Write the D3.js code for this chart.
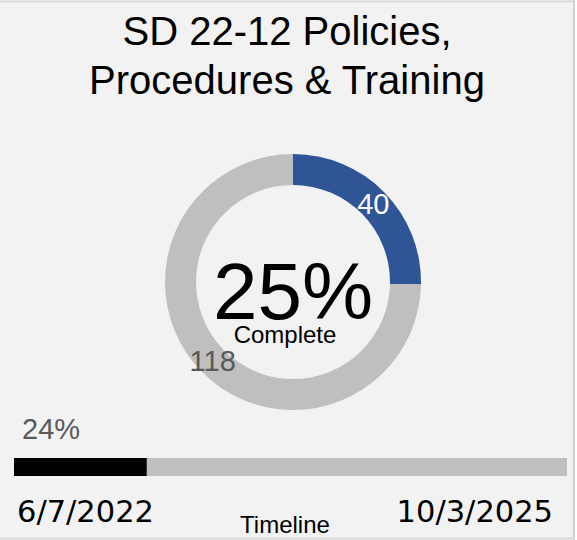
<!DOCTYPE html>
<html>
<head>
<meta charset="utf-8">
<script src="https://cdn.jsdelivr.net/npm/d3@7"></script>
<style>
  html, body { margin: 0; padding: 0; background: #ffffff; }
  svg { display: block; font-family: "Liberation Sans", Arial, sans-serif; }
</style>
</head>
<body>
<svg id="chart" width="577" height="540"></svg>
<script>
// title, two lines as in the card
var titleLines = ["SD 22-12 Policies,", "Procedures & Training"];

// donut: completed vs remaining items
var segNames = ["Complete", "Remaining"];
var segValues = [40, 118];
var segColors = ["#2f5597", "#bfbfbf"];
var segLabelColors = ["#ffffff", "#595959"];

// timeline bar
var timeStart = "6/7/2022";
var timeEnd = "10/3/2025";
var timeElapsed = [0.24];

var svg = d3.select("#chart");
var W = 577, H = 540;

// card background + thin borders
svg.append("rect").attr("x", 0).attr("y", 0).attr("width", 575).attr("height", H).attr("fill", "#f2f2f2");
svg.append("line").attr("x1", 0).attr("x2", 575).attr("y1", 1.5).attr("y2", 1.5).attr("stroke", "#d9d9d9").attr("stroke-width", 2);
svg.append("line").attr("x1", 574).attr("x2", 574).attr("y1", 0).attr("y2", H).attr("stroke", "#d0d0d0").attr("stroke-width", 2);
svg.append("line").attr("x1", 0).attr("x2", 575).attr("y1", 538.5).attr("y2", 538.5).attr("stroke", "#d9d9d9").attr("stroke-width", 2);

svg.selectAll("text.title")
  .data(titleLines)
  .enter().append("text")
  .attr("class", "title")
  .attr("x", 287)
  .attr("y", function (d, i) { return 45 + i * 49; })
  .attr("text-anchor", "middle")
  .attr("font-size", 40)
  .attr("fill", "#000")
  .text(function (d) { return d; });

// donut
var cx = 293, cy = 282;
var total = d3.sum(segValues);
var pie = d3.pie().sort(null).value(function (d) { return d; });
var arc = d3.arc().innerRadius(97).outerRadius(128);
var arcs = pie(segValues);

var g = svg.append("g").attr("transform", "translate(" + cx + "," + cy + ")");
g.selectAll("path")
  .data(arcs)
  .enter().append("path")
  .attr("d", arc)
  .attr("fill", function (d, i) { return segColors[i]; });

g.selectAll("text.val")
  .data(arcs)
  .enter().append("text")
  .attr("class", "val")
  .attr("transform", function (d) { return "translate(" + arc.centroid(d) + ")"; })
  .attr("text-anchor", "middle")
  .attr("dy", "0.36em")
  .attr("font-size", 29)
  .attr("fill", function (d, i) { return segLabelColors[i]; })
  .text(function (d) { return d.data; });

var pct = Math.round(segValues[0] / total * 100);
g.append("text")
  .attr("x", 0).attr("y", 37)
  .attr("text-anchor", "middle")
  .attr("font-size", 80)
  .attr("fill", "#000")
  .text(pct + "%");
g.append("text")
  .attr("x", -8).attr("y", 61)
  .attr("text-anchor", "middle")
  .attr("font-size", 24)
  .attr("fill", "#000")
  .text(segNames[0]);

// timeline bar
var x = d3.scaleLinear().domain([0, 1]).range([14, 567]);
var barY = 458, barH = 18;
svg.append("rect")
  .attr("x", x(0)).attr("y", barY)
  .attr("width", x(1) - x(0)).attr("height", barH)
  .attr("fill", "#bfbfbf");
svg.selectAll("rect.done")
  .data(timeElapsed)
  .enter().append("rect")
  .attr("class", "done")
  .attr("x", x(0)).attr("y", barY)
  .attr("width", function (d) { return x(d) - x(0); })
  .attr("height", barH)
  .attr("fill", "#000");

svg.append("text")
  .attr("x", 22).attr("y", 439)
  .attr("font-size", 29)
  .attr("fill", "#595959")
  .text(d3.format(".0%")(timeElapsed[0]));

svg.append("text")
  .attr("x", 17).attr("y", 522)
  .attr("font-family", "DejaVu Sans")
  .attr("font-size", 30.5)
  .attr("fill", "#000")
  .text(timeStart);
svg.append("text")
  .attr("x", 553).attr("y", 522)
  .attr("text-anchor", "end")
  .attr("font-family", "DejaVu Sans")
  .attr("font-size", 30.5)
  .attr("fill", "#000")
  .text(timeEnd);
svg.append("text")
  .attr("x", 285).attr("y", 533)
  .attr("text-anchor", "middle")
  .attr("font-size", 24)
  .attr("fill", "#000")
  .text("Timeline");
</script>
</body>
</html>
